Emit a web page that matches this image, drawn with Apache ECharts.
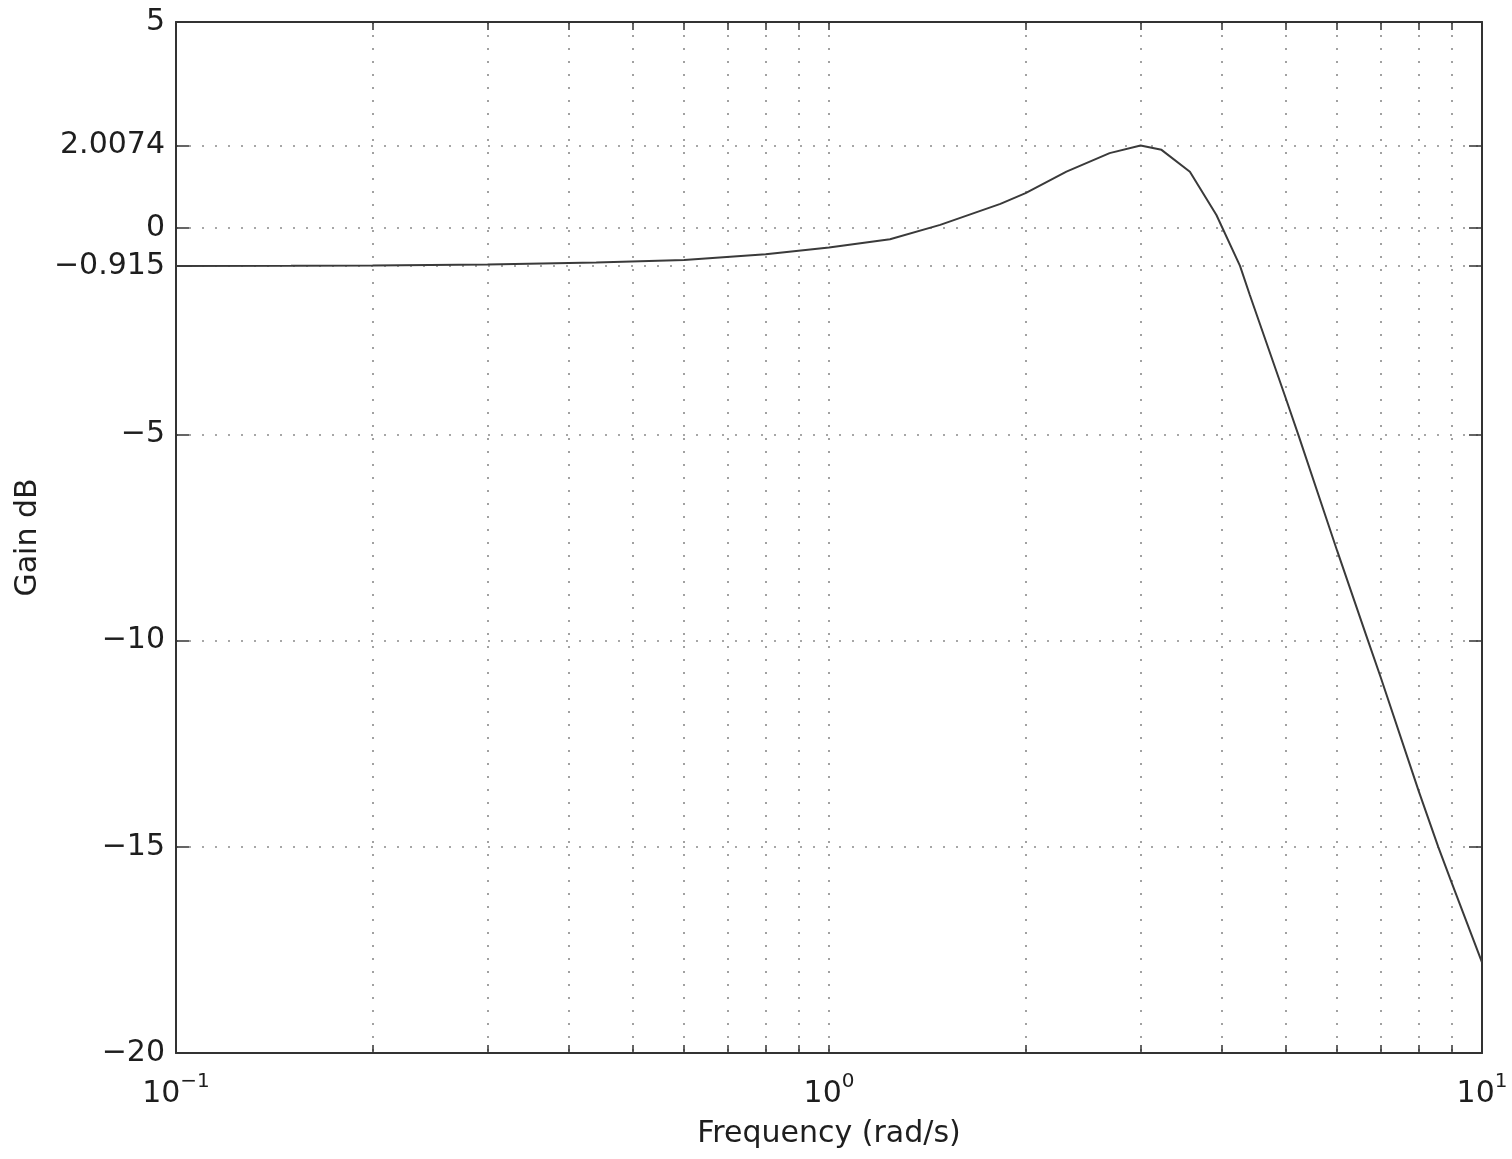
<!DOCTYPE html>
<html>
<head>
<meta charset="utf-8">
<script src="https://cdn.jsdelivr.net/npm/echarts@6/dist/echarts.min.js"></script>
<style>
html, body { margin: 0; padding: 0; background: #fff; }
#chart { width: 1512px; height: 1159px; }
</style>
</head>
<body>
<div id="chart"></div>
<script>
// frequency (rad/s) and gain (dB)
const freq = [0.1, 0.15, 0.2, 0.3, 0.44, 0.6, 0.8, 1.0, 1.24, 1.48, 1.83, 2.0, 2.31, 2.69, 3.0, 3.23, 3.57, 3.92, 4.26, 4.41, 5.0, 5.23, 6.0, 6.69, 7.0, 8.0, 8.57, 9.0, 10.0];
const gainDb = [-0.915, -0.912, -0.905, -0.88, -0.83, -0.77, -0.63, -0.47, -0.27, 0.08, 0.59, 0.85, 1.37, 1.82, 2.0074, 1.90, 1.37, 0.32, -0.915, -1.62, -4.1, -5.0, -7.82, -10.0, -10.9, -13.65, -15.0, -15.9, -17.8];

const yTicks = [-20, -15, -10, -5, -0.915, 0, 2.0074, 5];
const xGrid = [0.1, 0.2, 0.3, 0.4, 0.5, 0.6, 0.7, 0.8, 0.9, 1, 2, 3, 4, 5, 6, 7, 8, 9, 10];
const xLabels = [0.1, 1, 10];

const font = "'DejaVu Sans', 'Liberation Sans', Arial, sans-serif";
const ink = '#1e1e1e';
const frame = '#333';
const dotted = { color: '#8a8a8a', width: 1.6, type: [2, 11] };

const chart = echarts.init(document.getElementById('chart'));

const xBase = {
    type: 'log',
    logBase: 10,
    min: 0.1,
    max: 10,
    axisLine: { show: true, onZero: false, lineStyle: { color: frame, width: 2 } },
    axisTick: { show: true, inside: true, length: 8, customValues: xGrid, lineStyle: { color: frame, width: 1.5 } },
    minorTick: { show: false }
};
const yBase = {
    type: 'value',
    min: -20,
    max: 5,
    axisLine: { show: true, onZero: false, lineStyle: { color: frame, width: 2 } },
    axisTick: { show: true, inside: true, length: 13, customValues: yTicks, lineStyle: { color: frame, width: 1.5 } }
};

const option = {
    animation: false,
    backgroundColor: '#fff',
    grid: { left: 176, right: 30, top: 22, bottom: 106, containLabel: false },
    xAxis: [
        Object.assign({}, xBase, {
            position: 'bottom',
            name: 'Frequency (rad/s)',
            nameLocation: 'middle',
            nameGap: 66,
            nameTextStyle: { fontFamily: font, fontSize: 30, color: ink },
            splitLine: { show: true, lineStyle: dotted },
            axisLabel: {
                show: true,
                customValues: xLabels,
                margin: 19,
                formatter: (v) => {
                    const e = Math.round(Math.log10(v));
                    return '{b|10}{s|' + String(e).replace('-', '\u2212') + '}';
                },
                rich: {
                    b: { fontFamily: font, fontSize: 30, color: ink, lineHeight: 44 },
                    s: { fontFamily: font, fontSize: 20, color: ink, verticalAlign: 'top', lineHeight: 44 }
                }
            }
        }),
        Object.assign({}, xBase, {
            position: 'top',
            axisLabel: { show: false },
            splitLine: { show: false }
        })
    ],
    yAxis: [
        Object.assign({}, yBase, {
            position: 'left',
            name: 'Gain dB',
            nameLocation: 'middle',
            nameGap: 126,
            nameTextStyle: { fontFamily: font, fontSize: 30, color: ink },
            splitLine: { show: true, lineStyle: dotted },
            axisLabel: {
                show: true,
                customValues: yTicks,
                margin: 11,
                fontFamily: font,
                fontSize: 30,
                color: ink,
                formatter: (v) => String(v).replace('-', '\u2212')
            }
        }),
        Object.assign({}, yBase, {
            position: 'right',
            axisLabel: { show: false },
            splitLine: { show: false }
        })
    ],
    series: [{
        type: 'line',
        xAxisIndex: 0,
        yAxisIndex: 0,
        data: freq.map((f, i) => [f, gainDb[i]]),
        symbol: 'none',
        smooth: false,
        lineStyle: { color: '#3a3a3a', width: 2 },
        z: 5
    }]
};

chart.setOption(option);
</script>
</body>
</html>
